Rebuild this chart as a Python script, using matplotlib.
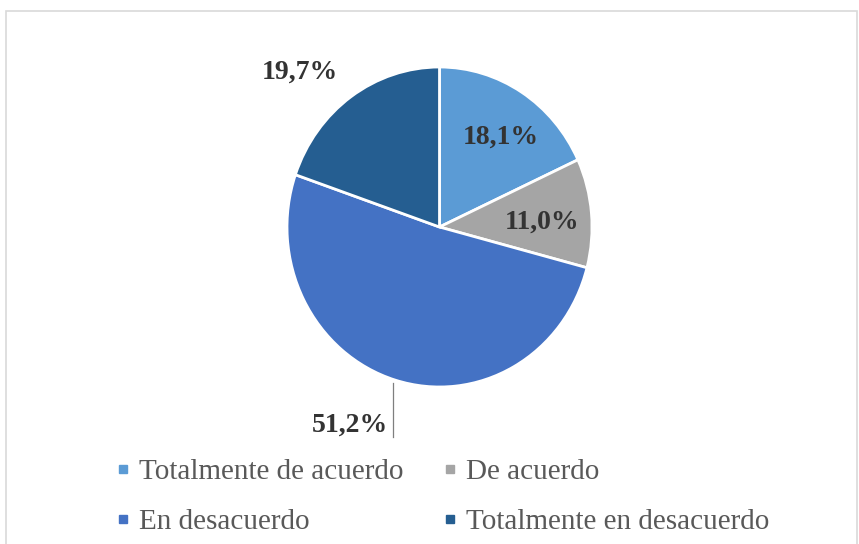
import matplotlib.pyplot as plt
from matplotlib.lines import Line2D
from matplotlib.patches import Rectangle

plt.rcParams['font.family'] = ['Liberation Serif', 'DejaVu Serif']

categories = ['Totalmente de acuerdo', 'De acuerdo', 'En desacuerdo', 'Totalmente en desacuerdo']
values = [18.1, 11.0, 51.2, 19.7]
labels = ['18,1%', '11,0%', '51,2%', '19,7%']
colors = ['#5B9BD5', '#A5A5A5', '#4472C4', '#255E91']

# label positions (in pie-radius units), picked to match the original layout
label_pos = [(0.40, 0.56), (0.67, 0.03), (-0.59, -1.24), (-0.915, 0.97)]

W, H = 859, 544
cx, cy = 439.5, 227      # pie centre in pixels (from top-left)
rx, ry = 152.5, 160      # slight vertical stretch like the source image

fig = plt.figure(figsize=(W / 100, H / 100), dpi=100)
ax = fig.add_axes([0, 0, 1, 1])

ax.pie(values, colors=colors, startangle=90, counterclock=False,
       wedgeprops=dict(edgecolor='white', linewidth=2))
ax.set_aspect('auto')
ax.set_xlim(-cx / rx, (W - cx) / rx)
ax.set_ylim(-(H - cy) / ry, cy / ry)
ax.axis('off')

for (x, y), txt in zip(label_pos, labels):
    ax.text(x, y, txt, ha='center', va='center', fontsize=20,
            fontweight='bold', color='#333333')

# leader line for the big slice
ax.plot([-0.305, -0.305], [-0.975, -1.31], color='#7f7f7f', linewidth=0.9)

# frame around the chart area
fig.patches.append(Rectangle((6 / W, -0.05), (W - 8) / W, (H - 11) / H + 0.05,
                             transform=fig.transFigure, fill=False,
                             edgecolor='#d9d9d9', linewidth=1.2))

handles = [Line2D([], [], marker='s', linestyle='none', markersize=6,
                  color=c) for c in colors]
order = [0, 2, 1, 3]
fig.legend([handles[i] for i in order], [categories[i] for i in order],
           ncol=2, loc='center', bbox_to_anchor=(443 / W, 1 - 497 / H),
           frameon=False, fontsize=21, handlelength=0.4, handletextpad=0.35,
           columnspacing=1.4, labelspacing=0.8, labelcolor='#595959',
           borderpad=0)

fig.savefig('out.png', dpi=100)
